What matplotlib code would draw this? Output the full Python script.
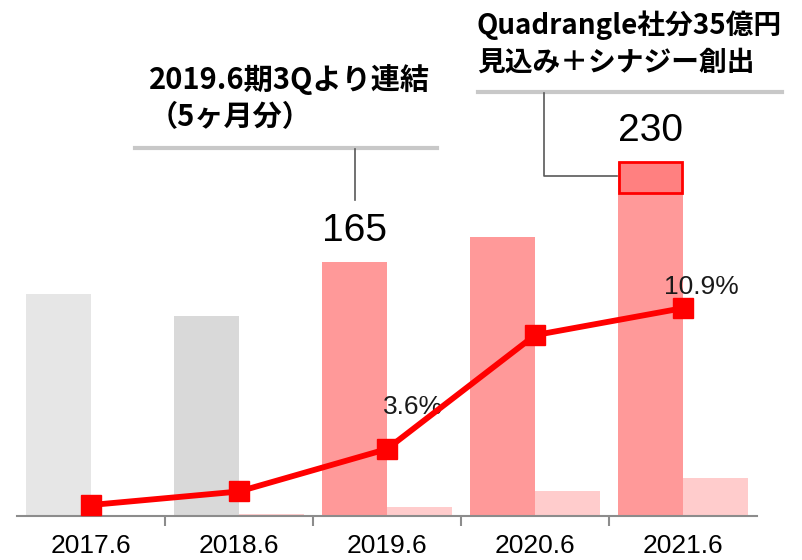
#!/usr/bin/env python
'''
sales bars + operating margin line, with two callout notes
'''
import numpy
import matplotlib
matplotlib.use('Agg')
import matplotlib.pyplot as plt

categories = ['2017.6', '2018.6', '2019.6', '2020.6', '2021.6']
sales = [144, 130, 165, 181, 230]
op_profit = [0, 1, 6, 16, 25]
margin = [0.7, 1.4, 3.6, 9.5, 10.9]
quadrangle_part = 20          # outlined top slice of the 2021.6 bar
sales_labels = {2: '165', 4: '230'}
margin_labels = {2: '3.6%', 4: '10.9%'}
note1 = '2019.6期3Qより連結\n（5ヶ月分）'
note2 = 'Quadrangle社分35億円\n見込み＋シナジー創出'

sales_colors = ['#e6e6e6', '#d9d9d9', '#ff9999', '#ff9999', '#ff9999']
op_color = '#ffcccc'
red = '#ff0000'
latin = ['Liberation Sans', 'DejaVu Sans']
jp = ['Noto Sans CJK JP', 'DejaVu Sans']

W, H = 802, 560
fig = plt.figure(figsize=(W/100., H/100.), dpi=100)
ax = fig.add_axes([17./W, 44./H, 740./W, 516./H])

x = numpy.arange(len(categories))
bw = 0.44
ax.bar(x - bw/2, sales, bw, color=sales_colors, zorder=2)
ax.bar(x + bw/2, op_profit, bw, color=op_color, zorder=2)
# outlined slice on top of the last bar
ax.bar(x[-1] - bw/2, quadrangle_part, bw*0.97, bottom=sales[-1]-quadrangle_part,
       facecolor='#ff8080', edgecolor=red, linewidth=2, zorder=3)

for i, s in sales_labels.items():
    ax.annotate(s, (x[i] - bw/2, sales[i]), xytext=(0, 9), textcoords='offset points',
                ha='center', va='bottom', fontsize=28, family=latin, color='black')

ax.set_xlim(-0.5, 4.5)
ax.set_ylim(0, 516/1.54)
for sp in ['top', 'right', 'left']:
    ax.spines[sp].set_visible(False)
ax.spines['bottom'].set_color('#8c8c8c')
ax.spines['bottom'].set_linewidth(1.5)
ax.set_yticks([])
ax.set_xticks(x)
ax.set_xticklabels(categories, fontsize=19, family=latin)
ax.tick_params(axis='x', which='major', length=0, pad=13)
ax.set_xticks(x[:-1] + 0.5, minor=True)
ax.tick_params(axis='x', which='minor', length=7, width=1.5, color='#8c8c8c', direction='out')

ax2 = ax.twinx()
ax2.plot(x, margin, color=red, linewidth=4.2, marker='s', markersize=15, zorder=5)
ax2.set_ylim(0.13, 0.13 + 516/19.3)
ax2.axis('off')
offsets = {2: (19, 30), 4: (13, 15)}
for i, s in margin_labels.items():
    ax2.annotate(s, (x[i], margin[i]), xytext=offsets[i], textcoords='offset points',
                 ha='center', va='center', fontsize=19, family=latin, color='#1a1a1a')

# callouts (pixel positions of the reference)
def fx(px): return px/float(W)
def fy(py): return 1 - py/float(H)

grey = '#c8c8c8'
dark = '#595959'
fig.text(fx(149), fy(64), note1, ha='left', va='top', fontsize=21, family=jp,
         weight='bold', linespacing=1.3)
fig.add_artist(plt.Line2D([fx(135), fx(437)], [fy(148), fy(148)], color=grey, linewidth=3))
fig.add_artist(plt.Line2D([fx(355), fx(355)], [fy(149), fy(200)], color=dark, linewidth=1.2))

fig.text(fx(477), fy(10), note2, ha='left', va='top', fontsize=20, family=jp,
         weight='bold', linespacing=1.4)
fig.add_artist(plt.Line2D([fx(478), fx(782)], [fy(92), fy(92)], color=grey, linewidth=3))
fig.add_artist(plt.Line2D([fx(544), fx(544), fx(617)], [fy(93), fy(176), fy(176)],
                          color=dark, linewidth=1.2))

fig.savefig('out.png', dpi=100)
